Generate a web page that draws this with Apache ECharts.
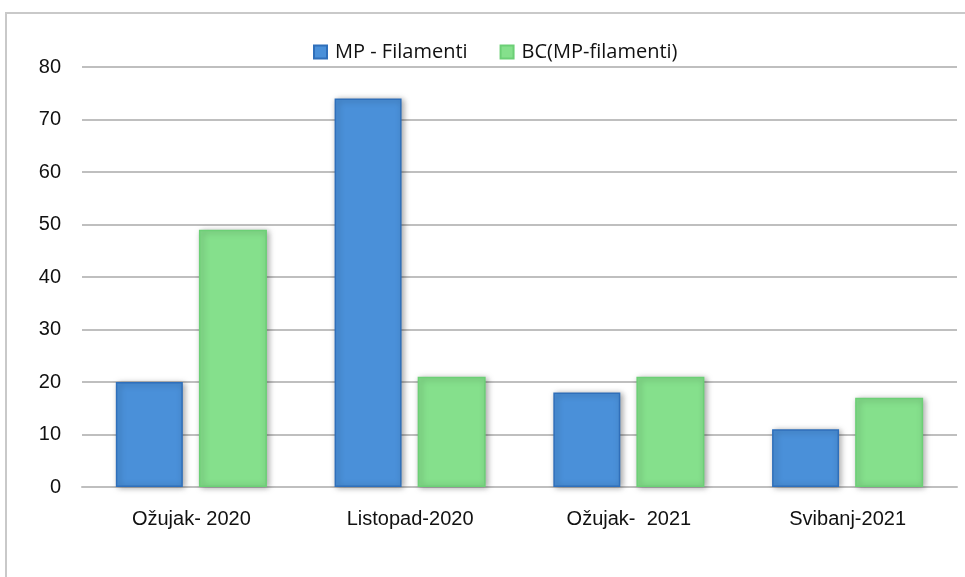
<!DOCTYPE html>
<html><head><meta charset="utf-8">
<script src="https://cdn.jsdelivr.net/npm/echarts@6/dist/echarts.min.js"></script>
<style>html,body{margin:0;padding:0;background:#fff}#c{width:965px;height:577px}</style>
</head><body><div id="c"></div>
<script>
const categories = ['Ožujak- 2020', 'Listopad-2020', 'Ožujak-  2021', 'Svibanj-2021'];
const mpFilamenti = [20, 74, 18, 11];
const bcFilamenti = [49, 21, 21, 17];
const seriesNames = ['MP - Filamenti', 'BC(MP-filamenti)'];

const chart = echarts.init(document.getElementById('c'));
const shadow = {shadowColor:'rgba(0,0,0,0.35)', shadowBlur:6, shadowOffsetX:2, shadowOffsetY:1};
chart.setOption({
  animation:false,
  graphic:[{type:'rect', shape:{x:6, y:13, width:1000, height:600}, style:{fill:'none', stroke:'#c9c9c9', lineWidth:2}, silent:true}],
  legend:{top:37, left:308, icon:'rect', itemWidth:13, itemHeight:13, itemGap:32,
    textStyle:{fontFamily:'Open Sans', fontSize:20, color:'#111', padding:[0,0,0,3]}, data:seriesNames},
  grid:{left:82, right:8, top:67, bottom:90},
  xAxis:{type:'category', data:categories, axisTick:{show:false},
    axisLine:{show:true, lineStyle:{color:'#bfbfbf', width:2}},
    axisLabel:{fontFamily:'Liberation Sans', fontSize:20, color:'#111', margin:22}},
  yAxis:{type:'value', min:0, max:80, interval:10,
    axisLabel:{fontFamily:'Liberation Sans', fontSize:20, color:'#111', margin:21},
    splitLine:{lineStyle:{color:'#bfbfbf', width:2}}},
  series:[
    {name:seriesNames[0], type:'bar', data:mpFilamenti, barWidth:67, barGap:'24%',
      itemStyle:Object.assign({color:'#4a90d9', borderColor:'#2f6fba', borderWidth:1.5}, shadow)},
    {name:seriesNames[1], type:'bar', data:bcFilamenti, barWidth:68,
      itemStyle:Object.assign({color:'#85e08c', borderColor:'#6ccf76', borderWidth:1.5}, shadow)}
  ]
});
</script></body></html>
